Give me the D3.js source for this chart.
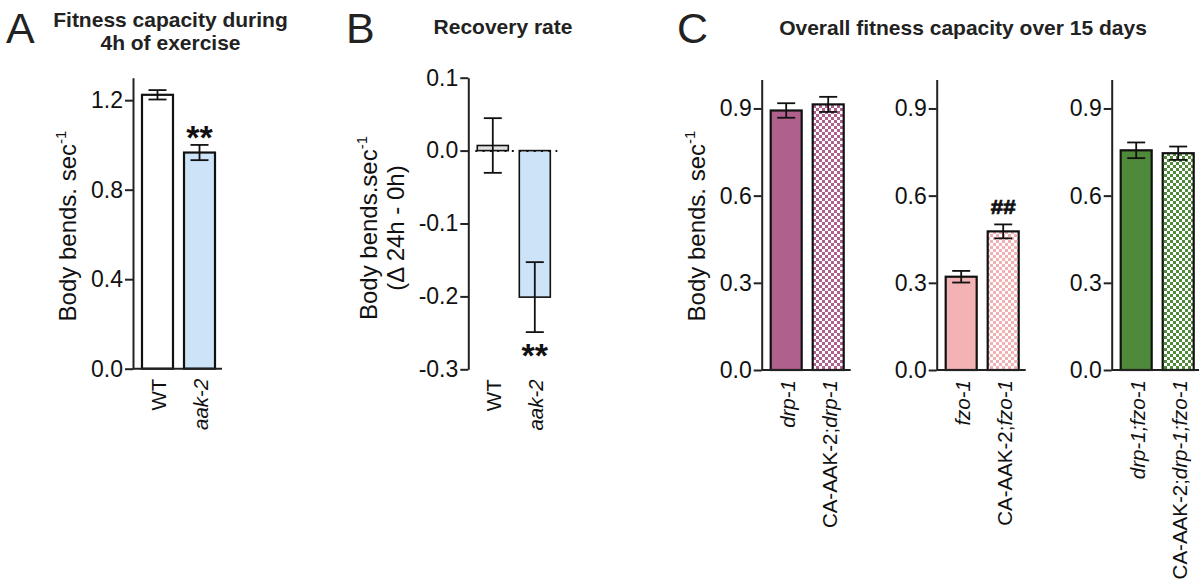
<!DOCTYPE html>
<html>
<head>
<meta charset="utf-8">
<script src="https://cdn.jsdelivr.net/npm/d3@7"></script>
<style>
  body { margin: 0; background: #fff; }
  svg { font-family: Arial, "Liberation Sans", sans-serif; }
  .tick text { font-size: 23px; fill: #111; }
  .tick line, .domain { stroke: #222; stroke-width: 2px; }
</style>
</head>
<body>
<svg id="chart" width="1199" height="584"></svg>
<script>
// panel A: fitness capacity during 4h of exercise
var aGroups = ["WT", "aak-2"];
var aMeans = [1.224, 0.966];
var aSem = [0.021, 0.034];
var aTicks = [0.0, 0.4, 0.8, 1.2];

// panel B: recovery rate
var bGroups = ["WT", "aak-2"];
var bMeans = [0.007, -0.201];
var bSem = [0.0375, 0.048];
var bTicks = [-0.3, -0.2, -0.1, 0.0, 0.1];

// panel C: overall fitness capacity over 15 days
var cGroups1 = ["drp-1", "CA-AAK-2;drp-1"];
var cMeans1 = [0.893, 0.914];
var cSem1 = [0.025, 0.026];
var cGroups2 = ["fzo-1", "CA-AAK-2;fzo-1"];
var cMeans2 = [0.321, 0.477];
var cSem2 = [0.020, 0.024];
var cGroups3 = ["drp-1;fzo-1", "CA-AAK-2;drp-1;fzo-1"];
var cMeans3 = [0.756, 0.746];
var cSem3 = [0.027, 0.023];
var cTicks = [0.0, 0.3, 0.6, 0.9];

var svg = d3.select("#chart");
var defs = svg.append("defs");

function checker(id, col) {
  var p = defs.append("pattern").attr("id", id)
    .attr("width", 6).attr("height", 6).attr("patternUnits", "userSpaceOnUse");
  p.append("rect").attr("width", 6).attr("height", 6).attr("fill", "#fff");
  p.append("rect").attr("width", 3).attr("height", 3).attr("fill", col);
  p.append("rect").attr("x", 3).attr("y", 3).attr("width", 3).attr("height", 3).attr("fill", col);
}
checker("chkPurple", "#b0608d");
checker("chkPink", "#f3b0b2");
checker("chkGreen", "#4e8a3a");

var fmt = d3.format(".1f");
function tickFmt(d) { return fmt(d).replace("\u2212", "-"); }

// italic gene names, but WT and the CA-AAK-2; prefix stay upright
function xLabel(sel, name) {
  if (name == "WT") { sel.append("tspan").text(name); return; }
  var pre = "CA-AAK-2;";
  if (name.indexOf(pre) == 0) {
    sel.append("tspan").text(pre);
    name = name.slice(pre.length);
  }
  sel.append("tspan").attr("font-style", "italic").text(name);
}

function panel(o) {
  var g = svg.append("g");
  var y = d3.scaleLinear().domain(o.domain).range([o.yBottom, o.yTop]);
  var x = d3.scaleBand().domain(o.groups)
    .range([o.axisX, o.axisX + 91]).paddingInner(0.262).paddingOuter(0.214);

  g.append("g").attr("transform", "translate(" + o.axisX + ",0)")
    .call(d3.axisLeft(y).tickValues(o.ticks).tickSize(8).tickSizeOuter(0).tickPadding(2)
      .tickFormat(tickFmt));

  var base = y(0);
  var rows = o.groups.map(function(d, i) {
    return {name: d, mean: o.means[i], sem: o.sem[i], fill: o.fills[i]};
  });

  g.selectAll("rect.bar").data(rows).enter().append("rect")
    .attr("class", "bar")
    .attr("x", function(d) { return x(d.name); })
    .attr("width", x.bandwidth())
    .attr("y", function(d) { return Math.min(y(d.mean), base); })
    .attr("height", function(d) { return Math.abs(y(d.mean) - base); })
    .attr("fill", function(d) { return d.fill; })
    .attr("stroke", "#111")
    .attr("stroke-width", o.barStroke || 2.2);

  if (o.dotted) {
    g.append("line").attr("x1", o.axisX + 7).attr("x2", o.axisX + 89)
      .attr("y1", base + 0.5).attr("y2", base + 0.5).attr("stroke", "#111")
      .attr("stroke-width", 2).attr("stroke-dasharray", "2,5.3");
  }

  if (o.xAxis) {
    g.append("line").attr("x1", o.axisX).attr("x2", o.axisX + 89)
      .attr("y1", base).attr("y2", base).attr("stroke", "#222").attr("stroke-width", 2);
  }

  // error bars
  var eb = g.selectAll("g.err").data(rows).enter().append("g").attr("class", "err")
    .attr("stroke", "#111").attr("stroke-width", 1.8);
  eb.append("line")
    .attr("x1", function(d) { return x(d.name) + x.bandwidth() / 2; })
    .attr("x2", function(d) { return x(d.name) + x.bandwidth() / 2; })
    .attr("y1", function(d) { return y(d.mean + d.sem); })
    .attr("y2", function(d) { return y(d.mean - d.sem); });
  [1, -1].forEach(function(s) {
    eb.append("line")
      .attr("x1", function(d) { return x(d.name) + x.bandwidth() / 2 - 9; })
      .attr("x2", function(d) { return x(d.name) + x.bandwidth() / 2 + 9; })
      .attr("y1", function(d) { return y(d.mean + s * d.sem); })
      .attr("y2", function(d) { return y(d.mean + s * d.sem); });
  });

  // x labels
  g.selectAll("text.xl").data(rows).enter().append("text")
    .attr("class", "xl")
    .attr("transform", function(d) {
      return "translate(" + (x(d.name) + x.bandwidth() / 2 + 1) + "," + (o.yBottom + 10) + ") rotate(-90)";
    })
    .attr("text-anchor", "end").attr("dy", "0.36em")
    .attr("font-size", 20.5).attr("fill", "#111")
    .each(function(d) { xLabel(d3.select(this), d.name); });

  // significance marks
  if (o.mark) {
    var m = rows[o.mark.index];
    var my = o.mark.below ? y(m.mean - m.sem) + o.mark.off : y(m.mean + m.sem) + o.mark.off;
    var t = g.append("text").attr("x", x(m.name) + x.bandwidth() / 2).attr("y", my)
      .attr("text-anchor", "middle").attr("font-weight", "bold")
      .attr("font-size", o.mark.size).attr("fill", "#111")
      .text(o.mark.text);
    if (o.mark.len) {
      t.attr("textLength", o.mark.len).attr("lengthAdjust", "spacingAndGlyphs")
        .attr("stroke", "#111").attr("stroke-width", 0.7);
    }
  }
  return {y: y, x: x};
}

panel({groups: aGroups, means: aMeans, sem: aSem, ticks: aTicks, domain: [0, 1.3],
  yBottom: 368.7, yTop: 77.8, axisX: 133, xAxis: true,
  fills: ["#ffffff", "#cce3f8"], mark: {index: 1, text: "**", size: 34, off: 4}});

panel({groups: bGroups, means: bMeans, sem: bSem, ticks: bTicks, domain: [-0.3, 0.1],
  yBottom: 369.3, yTop: 77.7, axisX: 468.3, dotted: true, barStroke: 1.6,
  fills: ["#e2e2e2", "#cce3f8"], mark: {index: 1, text: "**", size: 34, below: true, off: 35}});

panel({groups: cGroups1, means: cMeans1, sem: cSem1, ticks: cTicks, domain: [0, 1.0],
  yBottom: 370, yTop: 79.4, axisX: 761.7, xAxis: true,
  fills: ["#b0608d", "url(#chkPurple)"]});
panel({groups: cGroups2, means: cMeans2, sem: cSem2, ticks: cTicks, domain: [0, 1.0],
  yBottom: 370, yTop: 79.4, axisX: 936.7, xAxis: true,
  fills: ["#f3b3b4", "url(#chkPink)"], mark: {index: 1, text: "##", size: 20, off: -10.5, len: 25}});
panel({groups: cGroups3, means: cMeans3, sem: cSem3, ticks: cTicks, domain: [0, 1.0],
  yBottom: 370, yTop: 79.4, axisX: 1111.7, xAxis: true,
  fills: ["#4e8a3a", "url(#chkGreen)"]});

// panel letters and titles
var letters = [["A", 6], ["B", 346], ["C", 677]];
svg.selectAll("text.letter").data(letters).enter().append("text")
  .attr("x", function(d) { return d[1]; }).attr("y", 43)
  .attr("font-size", 43).attr("fill", "#222").text(function(d) { return d[0]; });

function title(x, y, txt) {
  svg.append("text").attr("x", x).attr("y", y).attr("text-anchor", "middle")
    .attr("font-weight", "bold").attr("font-size", 21).attr("fill", "#222").text(txt);
}
title(170.5, 27, "Fitness capacity during");
title(170.5, 50, "4h of exercise");
title(503, 34, "Recovery rate");
title(963, 35, "Overall fitness capacity over 15 days");

// y labels, one text per line
function yLabel(x, y, txt, sup) {
  var t = svg.append("text").attr("transform", "translate(" + x + "," + y + ") rotate(-90)")
    .attr("text-anchor", "middle").attr("font-size", 24).attr("fill", "#111");
  t.append("tspan").text(txt);
  if (sup) t.append("tspan").attr("dy", -10).attr("font-size", 15).text(sup);
}
yLabel(76, 226, "Body bends. sec", "-1");
yLabel(377, 228, "Body bends.sec", "-1");
yLabel(404, 228, "(\u0394 24h - 0h)");
yLabel(705, 226, "Body bends. sec", "-1");
</script>
</body>
</html>
